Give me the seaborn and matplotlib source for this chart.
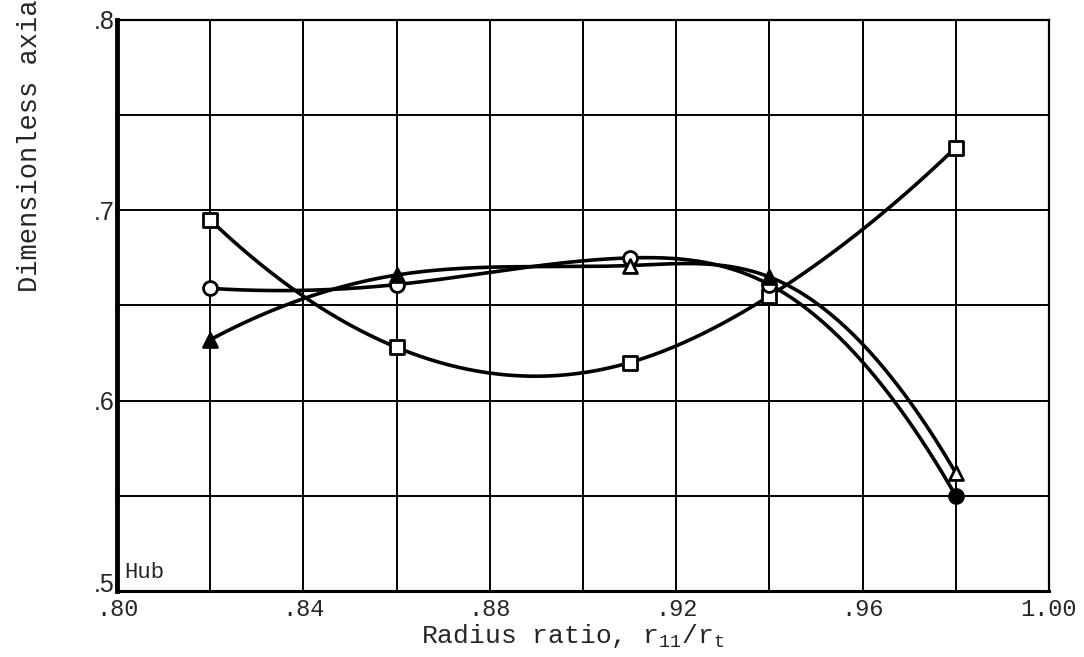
import numpy as np
import pandas as pd
import matplotlib
matplotlib.use("Agg")
import matplotlib.pyplot as plt
import matplotlib.transforms as mtransforms
import seaborn as sns

# Radius ratio stations and measured values for the three symbol sets
radius = [0.82, 0.86, 0.91, 0.94, 0.98]
square_vals = [0.695, 0.628, 0.620, 0.655, 0.733]
circle_vals = [0.659, 0.661, 0.675, 0.661, 0.550]
triangle_vals = [0.632, 0.666, 0.671, 0.665, 0.562]

# solid (filled) symbols
square_filled = [False, False, False, False, False]
circle_filled = [False, False, False, False, True]
triangle_filled = [True, True, False, True, False]

x_tick_vals = [0.80, 0.82, 0.84, 0.86, 0.88, 0.90, 0.92, 0.94, 0.96, 0.98, 1.00]
x_tick_text = [".80", "", ".84", "", ".88", "", ".92", "", ".96", "", "1.00"]
y_tick_vals = [0.50, 0.55, 0.60, 0.65, 0.70, 0.75, 0.80]
y_tick_text = [".5", "", ".6", "", ".7", "", ".8"]


def faired_curve(x, y, n=300):
    """Cubic spline through the data points with parabolic run-out ends."""
    x = np.asarray(x, float)
    y = np.asarray(y, float)
    h = np.diff(x)
    m = len(x)
    A = np.zeros((m, m))
    b = np.zeros(m)
    A[0, 0], A[0, 1] = 1.0, -1.0
    A[-1, -1], A[-1, -2] = 1.0, -1.0
    for i in range(1, m - 1):
        A[i, i - 1] = h[i - 1]
        A[i, i] = 2 * (h[i - 1] + h[i])
        A[i, i + 1] = h[i]
        b[i] = 6 * ((y[i + 1] - y[i]) / h[i] - (y[i] - y[i - 1]) / h[i - 1])
    M = np.linalg.solve(A, b)
    xs = np.linspace(x[0], x[-1], n)
    idx = np.clip(np.searchsorted(x, xs) - 1, 0, m - 2)
    x0, x1 = x[idx], x[idx + 1]
    hh = x1 - x0
    t0 = x1 - xs
    t1 = xs - x0
    ys = (M[idx] * t0 ** 3 + M[idx + 1] * t1 ** 3) / (6 * hh) \
        + (y[idx] / hh - M[idx] * hh / 6) * t0 \
        + (y[idx + 1] / hh - M[idx + 1] * hh / 6) * t1
    return xs, ys


sns.set_theme(style="white")
plt.rcParams["font.family"] = ["Liberation Mono", "DejaVu Sans"]
plt.rcParams["mathtext.fontset"] = "custom"
plt.rcParams["mathtext.rm"] = "Liberation Mono"
plt.rcParams["mathtext.it"] = "Liberation Mono"

W, H = 1084, 657
fig = plt.figure(figsize=(W / 100, H / 100), dpi=100)
ax = fig.add_axes([117 / W, 1 - 591 / H, (1049 - 117) / W, (591 - 20) / H])

ax.set_xlim(0.80, 1.00)
ax.set_ylim(0.50, 0.80)
ax.set_xticks(x_tick_vals)
ax.set_xticklabels(x_tick_text, fontsize=17, family="Liberation Mono")
ax.set_yticks(y_tick_vals)
ax.set_yticklabels(y_tick_text, fontsize=18, family="Liberation Sans")
ax.tick_params(axis="both", length=0)
ax.tick_params(axis="x", pad=5)
ax.tick_params(axis="y", pad=2)
ax.grid(True, color="black", linewidth=1.4)
ax.set_axisbelow(True)
for side, lw in (("left", 3.5), ("bottom", 2.2), ("top", 1.6), ("right", 1.6)):
    ax.spines[side].set_color("black")
    ax.spines[side].set_linewidth(lw)

# lift the lowest y label clear of the corner x label
lift = mtransforms.ScaledTranslation(0, 8 / 100, fig.dpi_scale_trans)
low_label = ax.get_yticklabels()[0]
low_label.set_transform(low_label.get_transform() + lift)

series = [
    ("square", square_vals, square_filled, "s", 10),
    ("circle", circle_vals, circle_filled, "o", 10),
    ("triangle", triangle_vals, triangle_filled, "^", 10),
]

for name, vals, filled, marker, ms in series:
    xs, ys = faired_curve(radius, vals)
    curve = pd.DataFrame({"x": xs, "y": ys})
    sns.lineplot(data=curve, x="x", y="y", ax=ax, color="black",
                 linewidth=2.6, sort=False, zorder=3)
    pts = pd.DataFrame({"x": radius, "y": vals, "filled": filled})
    for fill_state, sub in pts.groupby("filled"):
        sns.scatterplot(data=sub, x="x", y="y", ax=ax, marker=marker,
                        s=ms ** 2, facecolor="black" if fill_state else "white",
                        edgecolor="black", linewidth=2.0, zorder=4)

ax.set_xlabel("")
ax.set_ylabel("")
fig.text(573 / W, 1 - 643 / H, r"Radius ratio, r$_{11}$/r$_{\mathrm{t}}$",
         fontsize=19, family="Liberation Mono", ha="center", va="baseline")
ax.text(0.8015, 0.507, "Hub", fontsize=16, family="Liberation Mono",
        ha="left", va="baseline", zorder=5)

fig.text(30 / W, 1 - 292 / H, "Dimensionless axial velocity", rotation=90,
         fontsize=19.5, family="Liberation Mono", ha="center", va="bottom")

fig.savefig("out.png", dpi=100, facecolor="white")
